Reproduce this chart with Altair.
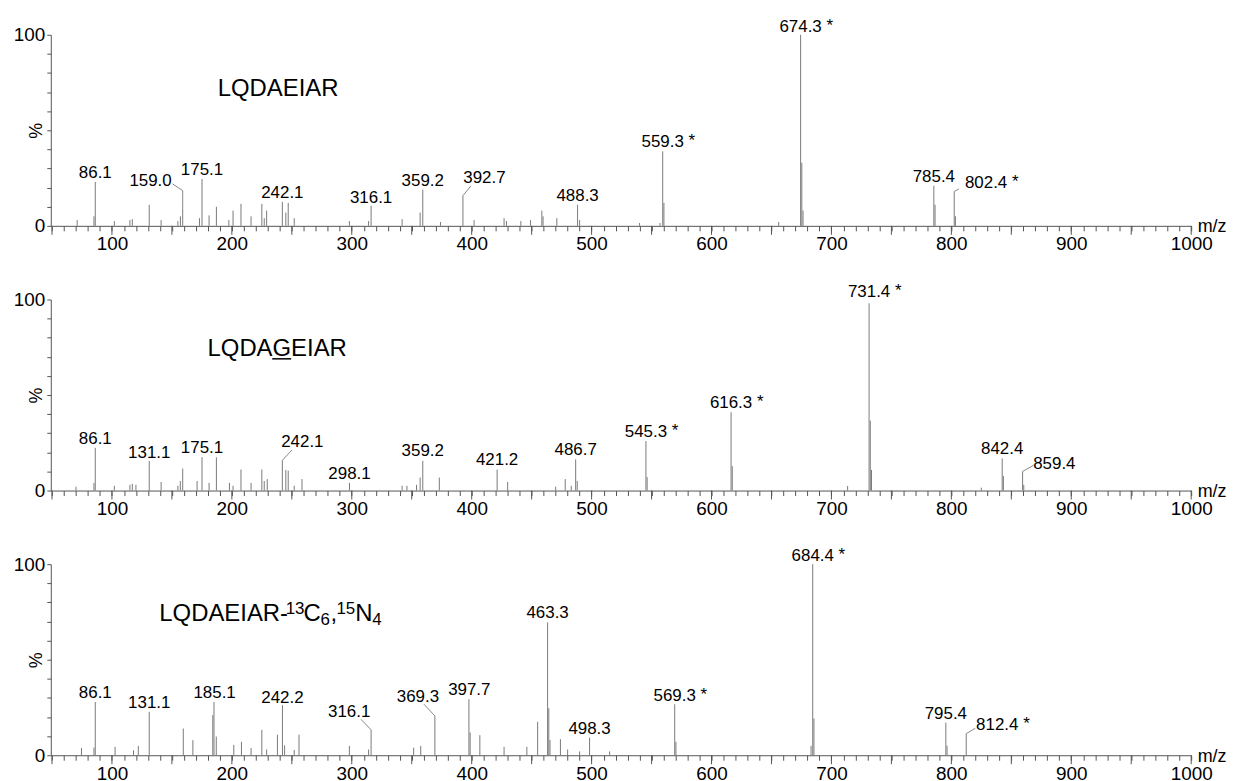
import altair as alt
import pandas as pd

FONT = "Liberation Sans"
W, H = 1146, 192
X_DOMAIN = [49, 1000]
PEAK_COLOR = "#7a7a7a"
AXIS_COLOR = "#555555"

X_TICKS = list(range(50, 1001, 10))
X_MAJOR = list(range(50, 1001, 50))
Y_TICKS = list(range(0, 101, 10))

# ---------------- Panel 1: LQDAEIAR ----------------
P1_MZ = [71, 85, 86.1, 102, 115, 117, 131.1, 141, 155, 157.1, 159.0, 173, 175.1, 181, 187.1,
         197.5, 201, 207.6, 216, 225, 227, 229, 242.1, 245, 247, 252, 298, 314, 316.1, 342,
         357, 359.2, 374, 392.7, 402, 427, 429, 441, 449, 458.5, 459.5, 471, 488.3, 490,
         540, 557, 559.3, 560.3, 656, 674.3, 675.3, 676.3, 785.4, 786.4, 802.4, 803.4]
P1_INT = [3, 5, 23, 2.5, 3, 3.5, 11, 3, 2.5, 5, 9, 4, 24.5, 5.5, 10,
          3, 8, 11.5, 5, 11.5, 4, 8, 12.5, 7, 12, 4, 2.5, 2.5, 10.5, 3.5,
          7, 19, 2, 15.8, 3, 4, 2.5, 2.5, 3, 8, 5, 4, 11, 3,
          1.5, 1.5, 39, 12, 2, 100, 33, 8, 21, 11, 18, 5]
P1_LAB = ["86.1", "159.0", "175.1", "242.1", "316.1", "359.2", "392.7", "488.3",
          "559.3", "674.3", "785.4", "802.4"]
P1_LAB_MZ = [86.1, 132.2, 175.1, 242.1, 316.1, 359.2, 410.6, 488.3, 559.3, 674.3, 785.4, 829.0]
P1_LAB_Y = [25.0, 20.6, 26.7, 14.4, 12.0, 21.0, 22.4, 13.0, 41.3, 101.7, 23.0, 19.6]
P1_STAR = [0, 0, 0, 0, 0, 0, 0, 0, 1, 1, 0, 1]
P1_LEADERS = [
    [(159.0, 9.0), (159.0, 18.4), (150.5, 22.0)],
    [(392.7, 15.8), (399.3, 20.9)],
    [(802.4, 18.0), (806.3, 19.3)],
]

# ---------------- Panel 2: LQDAGEIAR ----------------
P2_MZ = [70, 85, 86.1, 102, 115, 117, 120, 131.1, 141, 155, 157, 159, 171, 175.1, 181,
         187.1, 198, 201, 207.6, 216, 225, 227, 229.5, 242.1, 245, 247, 252, 258.5, 298.1,
         342, 346, 354, 357, 359.2, 373, 421.2, 430, 470, 478, 483, 486.7, 488, 545.3,
         546.3, 616.3, 617.3, 713.5, 731.4, 732.4, 733.4, 825, 842.4, 843.4, 859.4, 860.4]
P2_INT = [2, 4, 22.4, 2.5, 3, 3.5, 3, 15.5, 4.5, 2.5, 5, 11.5, 5, 17.5, 4,
          17.4, 4, 2.5, 11, 4, 11, 5, 6, 15.8, 10.8, 10.4, 2.5, 6, 4,
          2.5, 2.5, 3, 6.8, 15.5, 6.8, 11, 4.5, 2, 6, 2.5, 16.3, 5, 25.9,
          7, 41, 12.8, 2.4, 98, 36.6, 10.8, 1.5, 16.8, 7.6, 10, 3]
P2_LAB = ["86.1", "131.1", "175.1", "242.1", "298.1", "359.2", "421.2", "486.7",
          "545.3", "616.3", "731.4", "842.4", "859.4"]
P2_LAB_MZ = [86.1, 131.1, 175.1, 258.8, 298.1, 359.2, 421.2, 486.7, 545.3, 616.3, 731.4, 842.4, 885.9]
P2_LAB_Y = [24.5, 17.2, 19.4, 22.9, 5.9, 18.0, 13.2, 18.4, 28.0, 43.2, 101.4, 18.9, 11.1]
P2_STAR = [0, 0, 0, 0, 0, 0, 0, 0, 1, 1, 1, 0, 0]
P2_LEADERS = [
    [(242.1, 15.8), (250.1, 21.2)],
    [(859.4, 10.0), (868.5, 13.2)],
]

# ---------------- Panel 3: LQDAEIAR-13C6,15N4 ----------------
P3_MZ = [74.6, 85, 86.1, 102.6, 118, 122, 131.1, 159.5, 167.5, 184.1, 185.1, 187, 201.6,
         208, 216, 225, 229, 238, 242.2, 244, 252, 256, 298, 314, 316.1, 351.6, 357.5,
         369.3, 397.7, 398.7, 406.8, 427, 446, 455, 463.3, 464.3, 465.3, 474, 480, 490,
         498.3, 515, 569.3, 570.3, 683, 684.4, 685.4, 795.4, 796.4, 812.4]
P3_INT = [3.8, 4, 27.9, 4.4, 2.6, 4.9, 22.7, 14, 7.9, 21, 27.9, 9.8, 5.4,
          7, 3.8, 13.3, 3, 10.8, 26.2, 5.2, 2.8, 10.8, 4.9, 3, 13.3, 4, 4.9,
          20.6, 29.3, 11.9, 10.5, 4.4, 4.4, 17.5, 69.5, 24.6, 8, 8.4, 3, 2,
          9.2, 2, 26.7, 7, 4.9, 100, 19.2, 17.1, 5, 11.3]
P3_LAB = ["86.1", "131.1", "185.1", "242.2", "316.1", "369.3", "397.7", "463.3",
          "498.3", "569.3", "684.4", "795.4", "812.4"]
P3_LAB_MZ = [86.1, 131.1, 185.6, 242.2, 297.8, 355.2, 398.0, 463.3, 498.3, 569.3, 684.4, 795.4, 838.3]
P3_LAB_Y = [30.2, 24.6, 30.2, 27.6, 20.2, 27.9, 31.6, 71.7, 11.0, 28.4, 101.7, 19.2, 13.3]
P3_STAR = [0, 0, 0, 0, 0, 0, 0, 0, 0, 1, 1, 0, 1]
P3_LEADERS = [
    [(316.1, 13.3), (307.7, 18.8)],
    [(369.3, 20.6), (360.2, 26.7)],
    [(812.4, 11.3), (820.0, 14.1)],
]

TITLE_TEXT = ["LQDAEIAR", "LQDAGEIAR", "LQDAEIAR-"]
TITLE_MZ = [238.6, 237.8, 139.5]
TITLE_Y = [67.7, 70.5, 70.0]

# pieces of the isotope-labelled title: text, font size, dx, dy
P3_TITLE_PARTS = [("13", 17, 127, -8), ("C", 24, 145, 0), ("6", 17, 162, 4), (",", 24, 172, 0),
                  ("15", 17, 178, -8), ("N", 24, 197, 0), ("4", 17, 214, 4)]


def make_panel(mz, inten, lab, lab_mz, lab_y, star, leaders, idx):
    xs = alt.Scale(domain=X_DOMAIN, nice=False, zero=False)
    ys = alt.Scale(domain=[0, 100], nice=False, zero=False)
    xaxis = alt.Axis(values=X_TICKS, tickSize=5, tickColor=AXIS_COLOR, domainColor=AXIS_COLOR,
                     labelExpr="datum.value % 100 === 0 ? format(datum.value, 'd') : ''",
                     labelFont=FONT, labelFontSize=19, labelColor="black", labelPadding=4,
                     labelOverlap=False, labelFlush=False, grid=False,
                     title="m/z", titleX=W + 6, titleY=6, titleAlign="left",
                     titleBaseline="alphabetic", titleFont=FONT, titleFontSize=18,
                     titleFontWeight="normal", titleColor="black")
    yaxis = alt.Axis(values=Y_TICKS, tickSize=4, tickColor=AXIS_COLOR, domainColor=AXIS_COLOR,
                     labelExpr="datum.value === 0 || datum.value === 100 ? format(datum.value, 'd') : ''",
                     labelFont=FONT, labelFontSize=19, labelColor="black", labelPadding=2,
                     labelOverlap=False, labelFlush=False, grid=False,
                     title="%", titleX=-14, titleY=H / 2, titleAngle=270, titleAlign="center",
                     titleBaseline="middle", titleFont=FONT, titleFontSize=18,
                     titleFontWeight="normal", titleColor="black")

    def X():
        return alt.X("mz:Q", scale=xs, axis=xaxis)

    def Y():
        return alt.Y("pct:Q", scale=ys, axis=yaxis)

    peaks_df = pd.DataFrame({"mz": mz, "pct": inten, "base": [0] * len(mz)})
    peaks = alt.Chart(peaks_df).mark_rule(color=PEAK_COLOR, strokeWidth=1).encode(
        x=X(), y=Y(), y2="base:Q")

    major_df = pd.DataFrame({"mz": X_MAJOR, "pct": [0] * len(X_MAJOR)})
    major = alt.Chart(major_df).mark_rule(color=AXIS_COLOR, strokeWidth=1, y2Offset=9).encode(
        x=X(), y=Y(), y2="pct:Q")

    rows = []
    for i, pts in enumerate(leaders):
        for j, (a, b) in enumerate(pts):
            rows.append({"lid": i, "ord": j, "mz": a, "pct": b})
    lead = alt.Chart(pd.DataFrame(rows)).mark_line(color=PEAK_COLOR, strokeWidth=0.9).encode(
        x=X(), y=Y(), detail="lid:N", order="ord:Q")

    lab_df = pd.DataFrame({"mz": lab_mz, "pct": lab_y, "t": lab, "star": star})
    labels = alt.Chart(lab_df).mark_text(font=FONT, fontSize=17, align="center",
                                         baseline="alphabetic", color="black").encode(
        x=X(), y=Y(), text="t:N")
    stars = alt.Chart(lab_df[lab_df["star"] == 1].assign(s="*")).mark_text(
        font=FONT, fontSize=17, align="left", baseline="alphabetic", dx=26, dy=-1,
        color="black").encode(x=X(), y=Y(), text="s:N")

    tdf = pd.DataFrame({"mz": [TITLE_MZ[idx]], "pct": [TITLE_Y[idx]], "t": [TITLE_TEXT[idx]]})
    layers = [peaks, major, lead, labels, stars]
    if idx < 2:
        layers.append(alt.Chart(tdf).mark_text(font=FONT, fontSize=24, align="center",
                                               baseline="alphabetic", color="black").encode(
            x=X(), y=Y(), text="t:N"))
        if idx == 1:
            layers.append(alt.Chart(tdf).mark_rule(color="black", strokeWidth=1.5,
                                                   xOffset=-5, x2Offset=14, yOffset=3).encode(
                x=X(), x2="mz:Q", y=Y()))
    else:
        layers.append(alt.Chart(tdf).mark_text(font=FONT, fontSize=24, align="left",
                                               baseline="alphabetic", color="black").encode(
            x=X(), y=Y(), text="t:N"))
        for txt, fs, dx, dy in P3_TITLE_PARTS:
            pdf = tdf.assign(t=txt)
            layers.append(alt.Chart(pdf).mark_text(font=FONT, fontSize=fs, align="left",
                                                   baseline="alphabetic", dx=dx, dy=dy,
                                                   color="black").encode(
                x=X(), y=Y(), text="t:N"))
    return alt.layer(*layers).properties(width=W, height=H)


p1 = make_panel(P1_MZ, P1_INT, P1_LAB, P1_LAB_MZ, P1_LAB_Y, P1_STAR, P1_LEADERS, 0)
p2 = make_panel(P2_MZ, P2_INT, P2_LAB, P2_LAB_MZ, P2_LAB_Y, P2_STAR, P2_LEADERS, 1)
p3 = make_panel(P3_MZ, P3_INT, P3_LAB, P3_LAB_MZ, P3_LAB_Y, P3_STAR, P3_LEADERS, 2)

chart = alt.vconcat(p1, p2, p3, spacing=74, bounds="flush").properties(
    padding={"left": 5, "top": 6, "right": 2, "bottom": 2},
    background="white",
).configure_view(strokeWidth=0, stroke="transparent")

chart.save("out.html", embed_options={"renderer": "svg", "actions": False})
